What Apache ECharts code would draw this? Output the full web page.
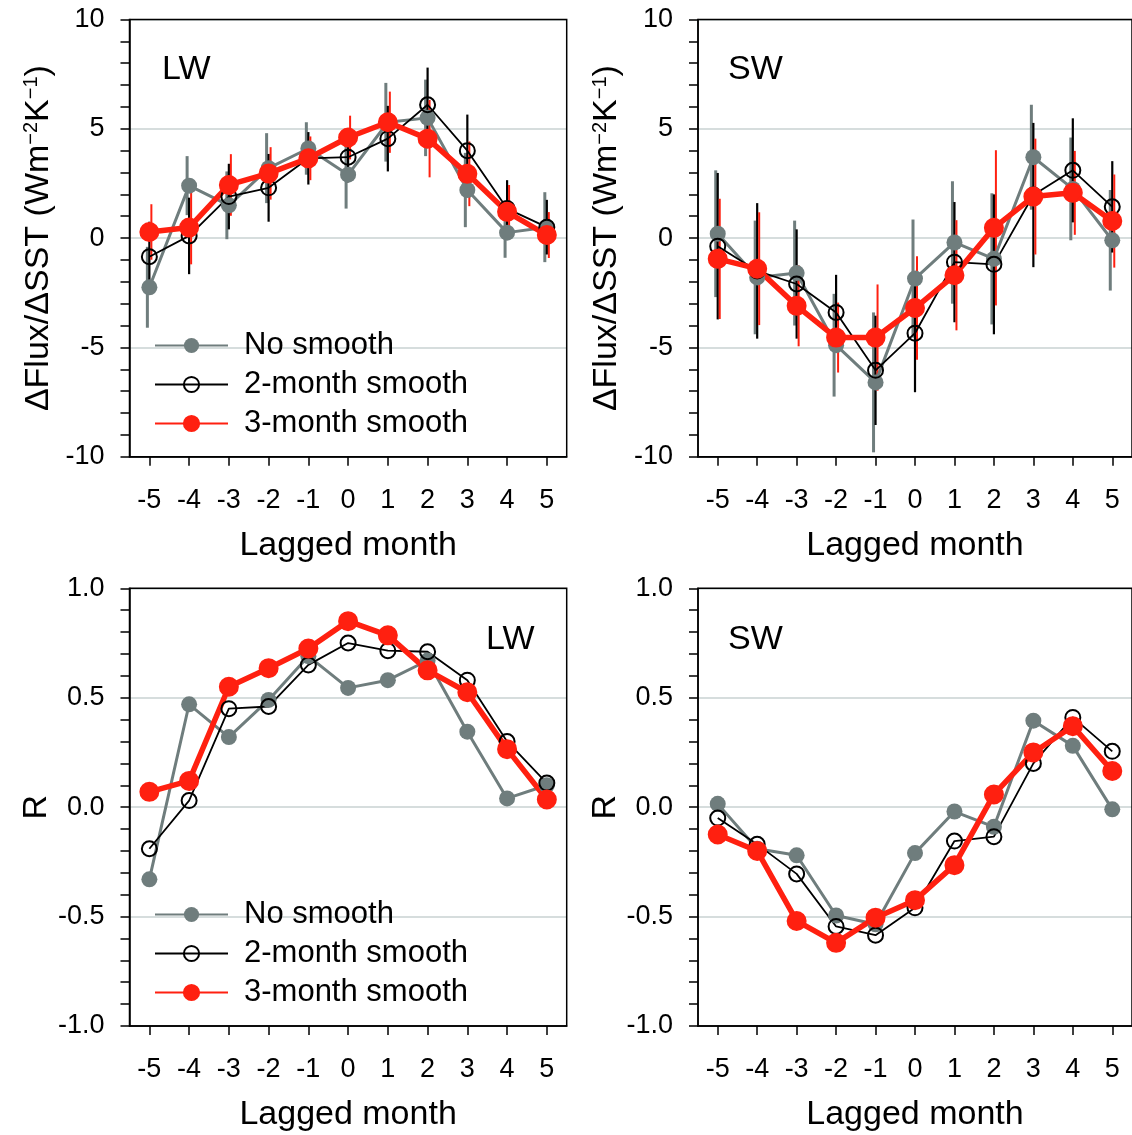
<!DOCTYPE html>
<html><head><meta charset="utf-8">
<script src="https://cdn.jsdelivr.net/npm/echarts@6/dist/echarts.min.js"></script>
<style>html,body{margin:0;padding:0;background:#fff}#c{width:1132px;height:1135px}</style>
</head><body><div id="c"></div>
<script>
// ---------- data ----------
const months = ['-5','-4','-3','-2','-1','0','1','2','3','4','5'];
const seriesNames = ['No smooth', '2-month smooth', '3-month smooth'];

// Top-left: LW flux feedback (W m-2 K-1) and error half-widths
const lwNo     = [-2.25, 2.4, 1.5, 3.2, 4.1, 2.9, 5.3, 5.5, 2.2, 0.25, 0.5];
const lwNoErr  = [1.85, 1.35, 1.55, 1.6, 1.2, 1.55, 1.8, 1.75, 1.7, 1.15, 1.6];
const lw2      = [-0.85, 0.1, 1.9, 2.3, 3.65, 3.7, 4.55, 6.1, 4.0, 1.35, 0.5];
const lw2Err   = [1.6, 1.75, 1.5, 1.55, 1.2, 1.15, 1.5, 1.7, 1.65, 1.3, 1.25];
const lw3      = [0.28, 0.48, 2.43, 2.96, 3.65, 4.6, 5.3, 4.55, 2.94, 1.2, 0.14];
const lw3Err   = [1.27, 1.68, 1.41, 1.2, 1.0, 1.0, 1.4, 1.77, 1.48, 1.23, 1.05];

// Top-right: SW flux feedback
const swNo     = [0.2, -1.8, -1.6, -4.9, -6.6, -1.85, -0.2, -0.95, 3.7, 2.25, -0.1];
const swNoErr  = [2.9, 2.6, 2.4, 2.35, 3.2, 2.7, 2.8, 3.0, 2.4, 2.35, 2.3];
const sw2      = [-0.37, -1.5, -2.1, -3.4, -6.05, -4.35, -1.1, -1.2, 1.97, 3.1, 1.43];
const sw2Err   = [3.35, 3.1, 2.5, 1.72, 2.5, 2.7, 2.75, 3.2, 3.3, 2.38, 2.09];
const sw3      = [-0.95, -1.4, -3.1, -4.55, -4.55, -3.2, -1.7, 0.47, 1.9, 2.07, 0.78];
const sw3Err   = [2.75, 2.58, 1.85, 1.6, 2.43, 2.37, 2.52, 3.55, 2.65, 1.92, 2.13];

// Bottom-left: LW correlation R
const rLwNo = [-0.33, 0.47, 0.32, 0.49, 0.69, 0.545, 0.58, 0.67, 0.345, 0.04, 0.10];
const rLw2  = [-0.19, 0.03, 0.45, 0.46, 0.65, 0.75, 0.715, 0.71, 0.58, 0.30, 0.11];
const rLw3  = [0.07, 0.12, 0.55, 0.635, 0.725, 0.85, 0.785, 0.625, 0.525, 0.265, 0.035];

// Bottom-right: SW correlation R
const rSwNo = [0.015, -0.19, -0.22, -0.495, -0.535, -0.21, -0.02, -0.09, 0.395, 0.28, -0.01];
const rSw2  = [-0.05, -0.17, -0.305, -0.545, -0.585, -0.46, -0.155, -0.135, 0.2, 0.41, 0.255];
const rSw3  = [-0.125, -0.2, -0.52, -0.62, -0.505, -0.425, -0.265, 0.058, 0.25, 0.37, 0.165];

const fluxTicks = {min: -10, max: 10, interval: 5};
const rTicks = {min: -1, max: 1, interval: 0.5};

// ---------- styling ----------
const FONT = "'Liberation Sans', Arial, Helvetica, sans-serif";
const GRAY = '#6f7d7d', BLACK = '#000000', RED = '#ff2010';
const GRIDLINE = '#c8d2d2';

const gridBoxes = [
  {left: 129.5, top: 19.5, width: 437.2, height: 437.2},
  {left: 698,   top: 19.5, width: 437.5, height: 437.2},
  {left: 129.5, top: 588.3, width: 437.2, height: 437.7},
  {left: 698,   top: 588.3, width: 437.5, height: 437.7}
];
const grid = gridBoxes.map(g => Object.assign({}, g, {
  show: true, borderColor: '#000', borderWidth: 1.5, backgroundColor: 'transparent', z: 10
}));

const xAxis = gridBoxes.map((g, i) => ({
  type: 'category', gridIndex: i, data: months, boundaryGap: true,
  axisLine: {show: true, onZero: false, lineStyle: {color: '#000', width: 1.5}},
  axisTick: {show: true, alignWithLabel: true, length: 9, lineStyle: {color: '#000', width: 1.5}},
  axisLabel: {color: '#000', fontSize: 27, fontFamily: FONT, margin: 30, interval: 0},
  splitLine: {show: false},
  name: 'Lagged month', nameLocation: 'middle', nameGap: 72,
  nameTextStyle: {color: '#000', fontSize: 34, fontFamily: FONT}
}));

const fluxName = '{n|\u0394Flux/\u0394SST (Wm}{s|\u22122}{n|K}{s|\u22121}{n|)}';
const fluxRich = {
  n: {fontSize: 34, fontFamily: FONT, color: '#000', lineHeight: 34},
  s: {fontSize: 20, fontFamily: FONT, color: '#000', lineHeight: 20, verticalAlign: 'top'}
};

function yAx(i, ticks, name, rich, fmt) {
  return {
    type: 'value', gridIndex: i, min: ticks.min, max: ticks.max, interval: ticks.interval,
    axisLine: {show: true, onZero: false, lineStyle: {color: '#000', width: 1.5}},
    axisTick: {show: true, length: 9, lineStyle: {color: '#000', width: 1.5}},
    minorTick: {show: true, splitNumber: 5, length: 9, lineStyle: {color: '#000', width: 1.5}},
    axisLabel: {color: '#000', fontSize: 27, fontFamily: FONT, margin: 25, formatter: fmt},
    splitLine: {show: true, lineStyle: {color: GRIDLINE, width: 1.5}},
    name: name, nameLocation: 'middle', nameGap: 74,
    nameTextStyle: rich ? {rich: rich, color: '#000', fontSize: 34, fontFamily: FONT}
                        : {color: '#000', fontSize: 34, fontFamily: FONT}
  };
}
const yAxis = [
  yAx(0, fluxTicks, fluxName, fluxRich, v => String(v)),
  yAx(1, fluxTicks, fluxName, fluxRich, v => String(v)),
  yAx(2, rTicks, 'R', null, v => v.toFixed(1)),
  yAx(3, rTicks, 'R', null, v => v.toFixed(1))
];

const styles = [
  {name: seriesNames[0], color: GRAY, lw: 3, symbolSize: 16,
   itemStyle: {color: GRAY}, errColor: GRAY, errW: 3, off: -2},
  {name: seriesNames[1], color: BLACK, lw: 1.8, symbolSize: 15,
   itemStyle: {color: 'rgba(0,0,0,0)', borderColor: BLACK, borderWidth: 2}, errColor: BLACK, errW: 2.2, off: 0},
  {name: seriesNames[2], color: RED, lw: 5.5, symbolSize: 18,
   itemStyle: {color: RED, borderColor: RED, borderWidth: 2}, errColor: RED, errW: 2, off: 2}
];

function lineSeries(i, st, vals) {
  return {
    type: 'line', name: st.name, xAxisIndex: i, yAxisIndex: i,
    data: vals, symbol: 'circle', symbolSize: st.symbolSize, showSymbol: true,
    lineStyle: {color: st.color, width: st.lw},
    itemStyle: st.itemStyle, emphasis: {disabled: true}, z: 3
  };
}
function errSeries(i, st, vals, errs) {
  return {
    type: 'custom', name: st.name + ' error', xAxisIndex: i, yAxisIndex: i,
    encode: {x: 0, y: [1, 2]},
    data: months.map((m, k) => [k, vals[k] - errs[k], vals[k] + errs[k]]),
    renderItem: function (params, api) {
      const xi = api.value(0);
      const p1 = api.coord([xi, api.value(2)]);
      const p2 = api.coord([xi, api.value(1)]);
      return {type: 'line',
        shape: {x1: p1[0] + st.off, y1: p1[1], x2: p2[0] + st.off, y2: p2[1]},
        style: {stroke: st.errColor, lineWidth: st.errW}};
    },
    z: 3, silent: true
  };
}

const series = [];
const panels = [
  {i: 0, vals: [lwNo, lw2, lw3], errs: [lwNoErr, lw2Err, lw3Err]},
  {i: 1, vals: [swNo, sw2, sw3], errs: [swNoErr, sw2Err, sw3Err]},
  {i: 2, vals: [rLwNo, rLw2, rLw3], errs: null},
  {i: 3, vals: [rSwNo, rSw2, rSw3], errs: null}
];
panels.forEach(p => {
  styles.forEach((st, k) => {
    if (p.errs) series.push(errSeries(p.i, st, p.vals[k], p.errs[k]));
    series.push(lineSeries(p.i, st, p.vals[k]));
  });
});

const legendCommon = {
  orient: 'vertical', padding: 0, itemWidth: 73, itemHeight: 19, itemGap: 8,
  data: seriesNames, selectedMode: false,
  textStyle: {fontSize: 31, fontFamily: FONT, color: '#000', padding: [0, 0, 0, 11]}
};
const legend = [
  Object.assign({left: 154, top: 330}, legendCommon),
  Object.assign({left: 154, top: 899}, legendCommon)
];

function panelLabel(text, x, y) {
  return {type: 'text', left: x, top: y, z: 20,
    style: {text: text, fontSize: 34, fontFamily: FONT, fill: '#000'}};
}
const graphic = [
  panelLabel('LW', 162, 53),
  panelLabel('SW', 728, 53),
  panelLabel('LW', 486, 623),
  panelLabel('SW', 728, 623)
];

const chart = echarts.init(document.getElementById('c'), null, {renderer: 'canvas'});
chart.setOption({
  animation: false, backgroundColor: '#fff',
  grid, xAxis, yAxis, legend, series, graphic
});
</script></body></html>
